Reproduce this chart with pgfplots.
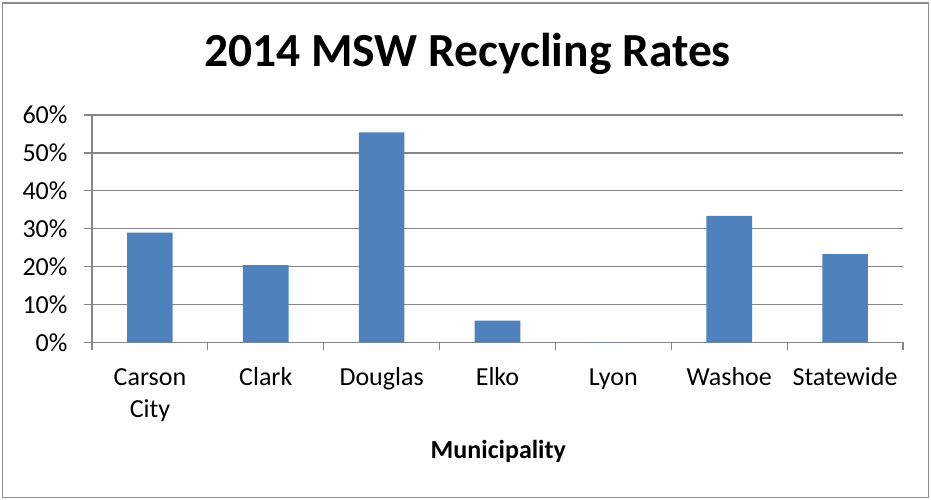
\documentclass[border=0pt]{standalone}
\usepackage{fontspec}
\setmainfont{Carlito}
\usepackage{pgfplots}
\pgfplotsset{compat=1.18}
\definecolor{barblue}{HTML}{4F81BD}
\definecolor{gridgray}{HTML}{868686}
\definecolor{framegray}{HTML}{8C8C8C}
\begin{document}
\begin{tikzpicture}[x=1pt,y=1pt]
\useasboundingbox (0,0) rectangle (931,500);
\draw[draw=framegray, line width=1.5pt] (2.5,2.5) rectangle (928.5,497);
\begin{axis}[
  at={(92pt,157.5pt)}, anchor=south west,
  scale only axis, width=811pt, height=227.5pt,
  xmin=-0.5, xmax=6.5, ymin=0, ymax=60,
  axis x line*=bottom, axis y line*=left,
  axis line style={gridgray, line width=1.2pt},
  every tick/.style={gridgray, line width=1.2pt},
  tick align=outside,
  major tick length=8pt,
  ytick={0,10,...,60},
  yticklabel={\pgfmathprintnumber{\tick}\%},
  yticklabel style={font=\fontsize{26}{32}\selectfont, xshift=-13pt},
  ymajorgrids, grid style={gridgray, line width=1.2pt},
  xtick={-0.5,0.5,...,6.5},
  x tick label as interval,
  xticklabels={{\strut Carson\\City}, \strut Clark, \strut Douglas, \strut Elko, \strut Lyon, \strut Washoe, \strut Statewide},
  xticklabel style={align=center, anchor=north, font=\fontsize{26}{32}\selectfont, yshift=-9pt},
  /pgf/number format/assume math mode=true,
  title={\bfseries 2014 MSW Recycling Rates},
  title style={font=\fontsize{47.5}{56}\selectfont, at={(axis description cs:0.463,1.185)}, anchor=base},
  xlabel={\bfseries Municipality},
  xlabel style={font=\fontsize{26}{32}\selectfont, at={(axis description cs:0.501,-0.508)}, anchor=base},
  ybar, bar width=45.6pt,
]
\addplot[fill=barblue, draw=none] coordinates {
  (0,29.0) (1,20.4) (2,55.4) (3,5.8) (4,0) (5,33.4) (6,23.3)
};
\end{axis}
\end{tikzpicture}
\end{document}
